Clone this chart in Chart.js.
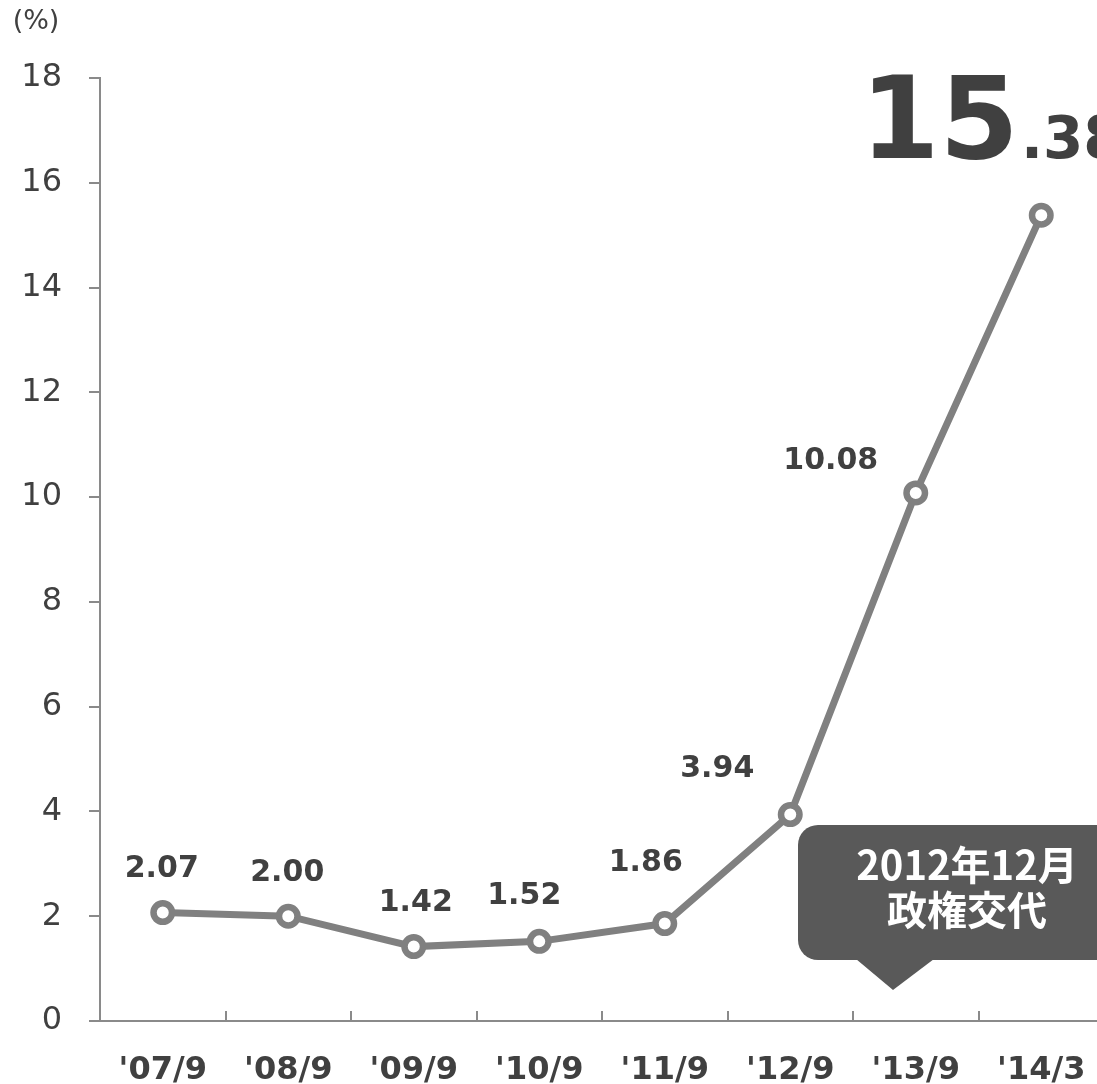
<!DOCTYPE html>
<html>
<head>
<meta charset="utf-8">
<script src="https://cdn.jsdelivr.net/npm/chart.js@4.4.1/dist/chart.umd.min.js"></script>
<style>
  html, body { margin: 0; padding: 0; background: #fff; overflow: hidden; }
  #wrap { width: 1105px; height: 1084px; }
</style>
</head>
<body>
<div id="wrap"><canvas id="rateChart" width="1105" height="1084"></canvas></div>
<script>
const categories = ["'07/9", "'08/9", "'09/9", "'10/9", "'11/9", "'12/9", "'13/9", "'14/3"];
const rates = [2.07, 2.00, 1.42, 1.52, 1.86, 3.94, 10.08, 15.38];
const yTicks = [0, 2, 4, 6, 8, 10, 12, 14, 16, 18];
const labelOffsets = [[-1, -43], [-1, -43], [2, -43], [-15, -45], [-19, -60], [-73, -45], [-85, -32]];
const calloutLines = ['2012年12月', '政権交代'];

const axisGray = '#8a8a8a';
const textDark = '#404040';

Chart.defaults.font.family = "'DejaVu Sans', sans-serif";

// value labels, the big last value, unit and the callout
const decorations = {
  id: 'decorations',
  afterDatasetsDraw(chart) {
    const ctx = chart.ctx;
    const pts = chart.getDatasetMeta(0).data;
    const area = chart.chartArea;
    const x = chart.scales.x;

    // small upward ticks between categories
    ctx.save();
    ctx.strokeStyle = axisGray;
    ctx.lineWidth = 2;
    for (let i = 1; i <= categories.length; i++) {
      const px = Math.round(x.left + (x.width / categories.length) * i);
      ctx.beginPath();
      ctx.moveTo(px, area.bottom - 10);
      ctx.lineTo(px, area.bottom);
      ctx.stroke();
    }
    ctx.restore();

    ctx.save();
    ctx.fillStyle = textDark;
    ctx.font = "bold 30px 'DejaVu Sans'";
    ctx.textAlign = 'center';
    ctx.textBaseline = 'middle';
    labelOffsets.forEach((off, i) => {
      ctx.fillText(rates[i].toFixed(2), pts[i].x + off[0], pts[i].y + off[1]);
    });

    // big last value
    const last = pts[pts.length - 1];
    const parts = rates[rates.length - 1].toFixed(2).split('.');
    ctx.textAlign = 'left';
    ctx.textBaseline = 'alphabetic';
    ctx.font = "bold 114px 'DejaVu Sans'";
    const bx = last.x - 181, by = last.y - 57;
    ctx.fillText(parts[0], bx, by);
    const w = ctx.measureText(parts[0]).width;
    ctx.font = "bold 58px 'DejaVu Sans'";
    ctx.fillText('.' + parts[1], bx + w + 2, by);

    // unit
    ctx.font = "27px 'DejaVu Sans'";
    ctx.textAlign = 'center';
    ctx.textBaseline = 'middle';
    ctx.fillText('(%)', 36, 22);

    // callout
    const l = 798, t = 825, r = 1140, b = 960, rad = 20;
    ctx.fillStyle = '#595959';
    ctx.beginPath();
    ctx.roundRect(l, t, r - l, b - t, rad);
    ctx.fill();
    ctx.beginPath();
    ctx.moveTo(856, b - 1);
    ctx.lineTo(934, b - 1);
    ctx.lineTo(893, 990);
    ctx.closePath();
    ctx.fill();
    ctx.fillStyle = '#ffffff';
    ctx.font = "bold 40px 'Noto Sans CJK JP'";
    ctx.fillText(calloutLines[0], 967, 865);
    ctx.fillText(calloutLines[1], 967, 910);
    ctx.restore();
  }
};

new Chart(document.getElementById('rateChart'), {
  type: 'line',
  data: {
    labels: categories,
    datasets: [{
      data: rates,
      borderColor: '#808080',
      borderWidth: 7,
      pointRadius: 9.25,
      pointBorderWidth: 6.5,
      pointBackgroundColor: '#ffffff',
      pointBorderColor: '#808080',
      tension: 0
    }]
  },
  options: {
    responsive: false,
    animation: false,
    devicePixelRatio: 1,
    layout: { autoPadding: false, padding: { top: 78, right: 1, left: 0, bottom: 0 } },
    plugins: { legend: { display: false }, tooltip: { enabled: false } },
    scales: {
      x: {
        offset: true,
        grid: { display: true, drawOnChartArea: false, drawTicks: false },
        border: { display: true, color: axisGray, width: 2 },
        ticks: {
          color: textDark,
          padding: 30,
          maxRotation: 0,
          autoSkip: false,
          font: { size: 32, weight: 'bold' }
        },
        afterFit(scale) {
          scale.height = 63;
          scale.paddingLeft = 0;
          scale.paddingRight = 0;
        }
      },
      y: {
        min: 0,
        max: 18,
        afterBuildTicks(scale) { scale.ticks = yTicks.map(v => ({ value: v })); },
        grid: { drawOnChartArea: false, drawTicks: true, tickLength: 11, color: axisGray, lineWidth: 2 },
        border: { display: true, color: axisGray, width: 2 },
        ticks: { color: textDark, padding: 27, font: { size: 32 } },
        afterFit(scale) { scale.width = 100; }
      }
    }
  },
  plugins: [decorations]
});
</script>
</body>
</html>
